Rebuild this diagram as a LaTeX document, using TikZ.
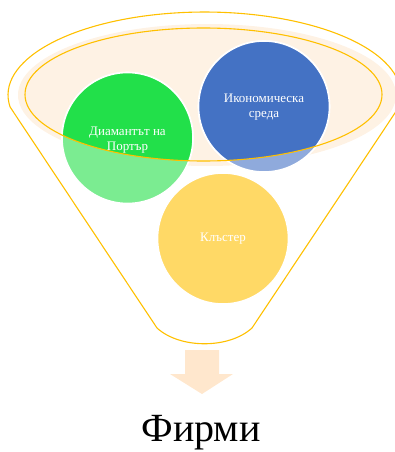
\documentclass[tikz,border=0pt]{standalone}
\usepackage{fontspec}
\setmainfont{Liberation Serif}
\definecolor{funnelline}{HTML}{FFC000}
\definecolor{ellfill}{HTML}{FEF2E4}
\definecolor{gfull}{HTML}{22E04A}
\definecolor{glight}{HTML}{7BEC91}
\definecolor{bfull}{HTML}{4472C4}
\definecolor{blight}{HTML}{8FAADC}
\definecolor{ylight}{HTML}{FFD966}
\definecolor{arrowfill}{HTML}{FFE7CD}
\tikzset{
  ball/.style={circle, minimum size=131pt, inner sep=0pt, draw=white, line width=1.6pt},
  balltext/.style={text=white, align=center, font=\fontsize{13}{14.5}\selectfont, inner sep=0pt},
  funnel/.style={draw=funnelline, line width=1.1pt, line join=round}
}
\begin{document}
\begin{tikzpicture}[x=1pt,y=-1pt]
\useasboundingbox (0,0) rectangle (395,452);
% funnel outline
\draw[funnel] (10.1,107) arc[start angle=171.7, end angle=368.3, x radius=196.5, y radius=83]
  -- (252,328) .. controls (229,349) and (180,349) .. (157,328) -- cycle;
% soft fill of the top
\fill[ellfill] (207,95) ellipse[x radius=189, y radius=71];
% light (outside) parts of the balls
\node[ball, fill=glight] (gC) at (127.5,138) {};
\node[ball, fill=blight] (bC) at (264,106.5) {};
\node[ball, fill=ylight] (yC) at (223,238.5) {};
% full colour parts inside the top ellipse
\begin{scope}
  \clip (203.5,94.5) ellipse[x radius=178.5, y radius=66.5];
  \node[ball, fill=gfull] at (gC) {};
  \node[ball, fill=bfull] at (bC) {};
\end{scope}
\draw[funnel] (203.5,94.5) ellipse[x radius=178.5, y radius=66.5];
% texts
\node[balltext] (gT) at (127.5,140) {Диамантът на\\Портър};
\node[balltext] (bT) at (264,107) {Икономическа\\среда};
\node[balltext] (yT) at (223,239) {Клъстер};
% arrow
\fill[arrowfill] (185,350) -- (219,350) -- (219,374) -- (233,374) -- (202,394)
  -- (170,374) -- (185,374) -- cycle;
\node[font=\fontsize{40}{44}\selectfont, inner sep=0pt] (firms) at (201,433) {Фирми};
\end{tikzpicture}
\end{document}
